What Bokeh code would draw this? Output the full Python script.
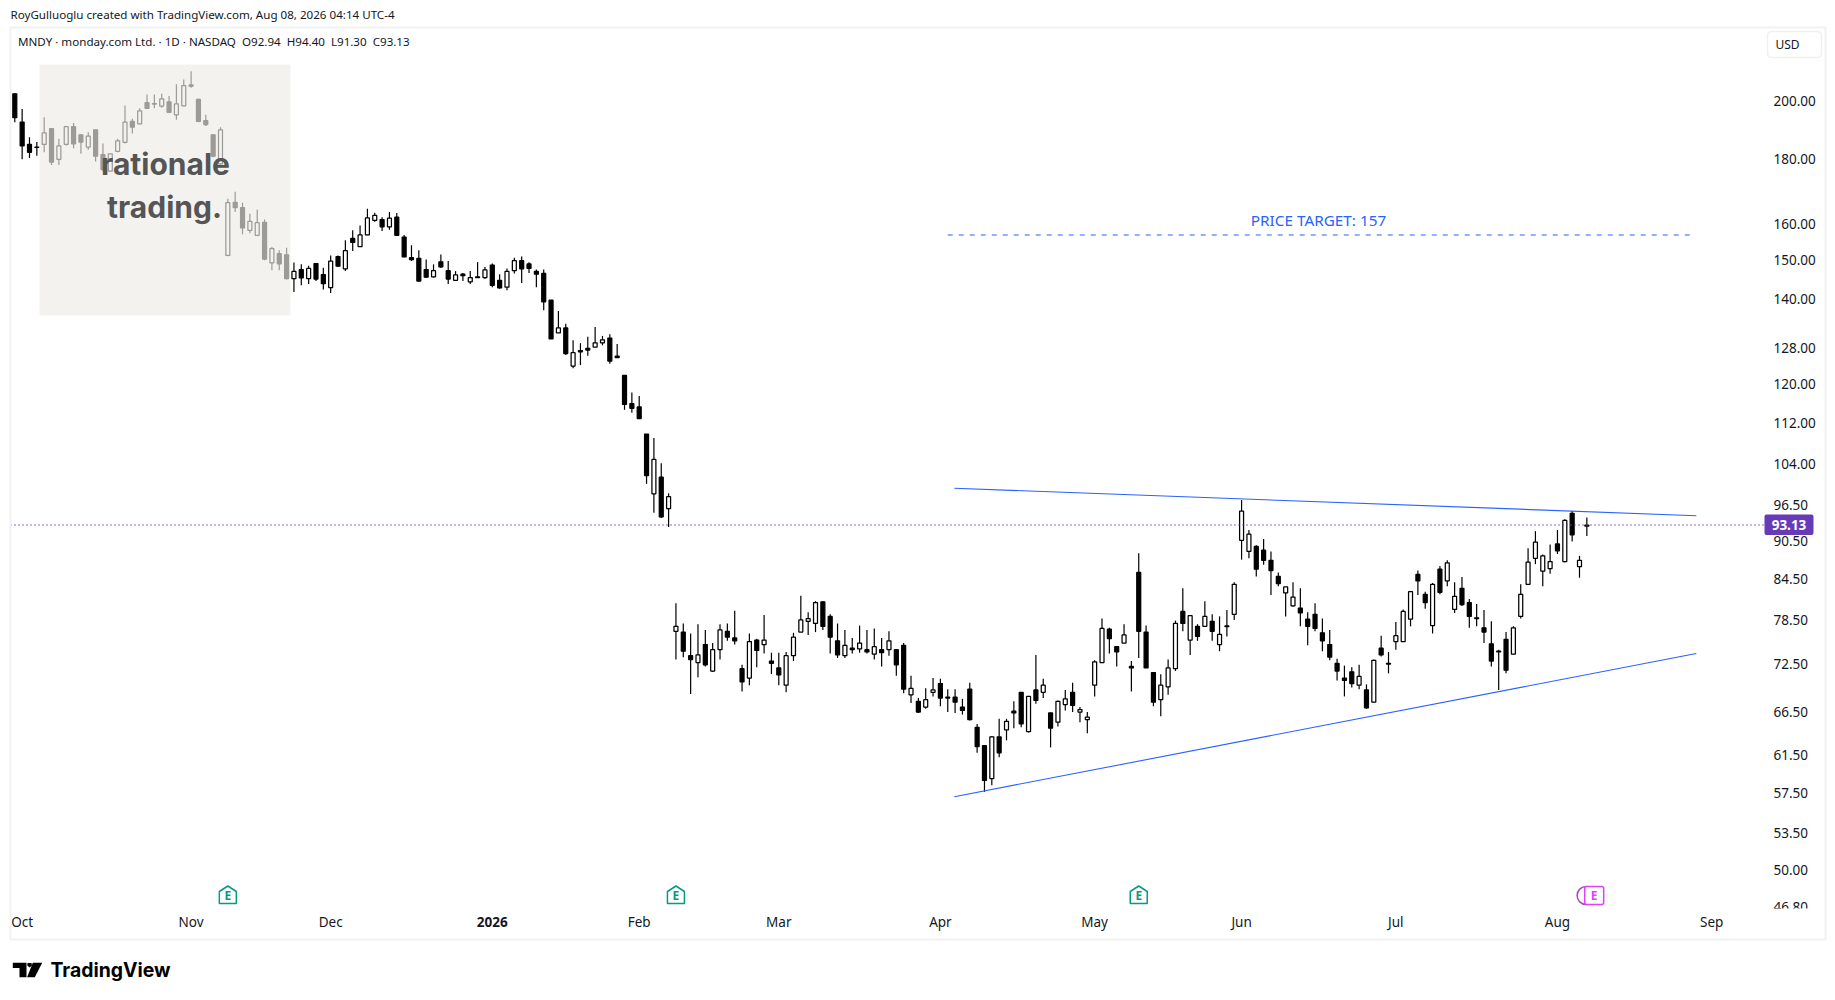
from bokeh.plotting import figure
from bokeh.embed import file_html
from bokeh.resources import INLINE
from bokeh.models import (Range1d, FixedTicker, PrintfTickFormatter, Label, BoxAnnotation,
                          PolyAnnotation, ColumnDataSource)

highs = [
 202.4,197.0,187.2,185.6,194.1,190.1,186.7,191.0,192.1,188.3,
 188.9,189.7,185.1,181.7,186.7,198.2,193.5,197.2,202.2,202.2,
 202.4,201.6,205.9,207.7,210.8,200.6,194.9,188.1,190.6,167.6,
 169.7,166.4,163.1,164.3,161.4,153.6,152.7,153.4,149.4,148.9,
 148.5,149.1,148,151.3,151.3,155.5,158.3,159.7,164.6,163.4,
 162.1,163.6,163.3,157,154.1,152.7,150.2,148.9,151.6,149.8,
 147.1,146.6,147.1,149.5,148.2,149.1,146.3,147.8,150.7,151,
 149.5,147.5,147.5,139.6,136.9,133.8,129.9,129.2,130.7,133,
 130.9,131.3,129,121.9,118.2,117.5,109.7,108.9,104.1,98.6,
 80.9,78,76.6,77.9,77.1,75.3,77.9,78,79.8,72.4,
 76.6,75.9,79.2,74,74,74.1,76.7,82,79.6,81.2,
 81.2,79.3,78,77.1,76,77.7,77.1,77.3,76,76.9,
 74.5,75.3,71,68.2,69.4,70.7,70.6,69.3,69.3,68.1,
 70.1,65.1,62.6,63.7,65.7,65.7,67.8,68.9,68.4,73.7,
 70.6,66.4,67.9,69.2,70.1,67.1,66.5,73,78.7,77.4,
 74.8,77.9,72.9,88.5,77.7,71.4,71.2,73.1,78.4,83.1,
 79.1,77.9,81.2,79.3,79,79.9,84,97.4,92.3,89.8,
 90.8,88.8,85.5,83.3,84,83.1,79.6,80.9,78.7,77.1,
 73.2,72.3,72.1,72.4,69.9,73.1,76.3,74.1,78.2,80,
 82.7,85.8,82.6,83.9,86.5,87.4,84,84.8,81.5,80.8,
 79.9,78.3,74.4,76.8,77.6,83.7,89.3,92.1,88.3,89.9,
 92.3,94.1,95.5,88.1,94.4]
lows = [
 192.3,179.9,180.3,181.1,182.2,178.1,178.1,184.4,183.5,181.7,
 183,179.2,176.1,176.1,182.2,185.1,188.5,191.6,197,197.2,
 197.4,195.7,193.2,197.9,204.6,192.3,191,180.6,177.9,151.1,
 163.6,157.2,157.5,156.7,150,147.3,147.3,144.9,141.7,143.4,
 143.7,144.5,142.3,141.4,148.2,147.1,152.5,153.6,156.9,160.8,
 158.1,158.5,156.9,150.8,149.8,144.4,145.3,145.4,147.9,143.7,
 144.6,144.5,143.7,145.4,145.1,142.9,142.5,142.1,146.5,144,
 146.6,142.9,137.1,130.2,131.6,126.5,123.5,124.2,126.3,128.3,
 128.7,124.5,125.9,114.6,114,112.8,100.3,95.2,94.3,92.8,
 73.1,73.4,68.7,70.8,72.2,71.5,73.1,75.6,75.1,69,
 69.8,72.1,73.9,71.2,69.8,68.9,72.9,76.8,76.4,76.8,
 77.1,73.9,73.3,73.3,73.9,74,73.9,73.1,72.2,73.6,
 71,68.8,67.6,66.4,66.9,68.4,67.2,66.5,66.4,66.2,
 65.5,61.8,57.6,58.3,61.3,63.2,64.6,64.7,64.1,67.5,
 68.2,62.4,64.8,66.7,66.5,65.3,64,68.4,72.7,73.9,
 72.2,75.3,69,73.3,72,67.2,66,68.6,71.6,76.9,
 73.7,75.6,77.6,75.6,74.2,76.2,78.5,87.5,87.7,84.9,
 86.7,82.1,83.4,79,80.4,77.6,75,76.9,74.2,73,
 70.4,68.4,69.5,69.3,66.9,67.7,73.5,71.3,74.4,75.5,
 77.6,82.1,80.1,76.6,82.2,83.4,79.5,80.5,77.4,77.6,
 75.3,72.2,69.2,71.3,73.8,78.7,83.6,86.8,83.4,85.3,
 88.4,87.1,90.4,84.7,91.3]
opens = [
 202.4,192.4,184.8,183.9,184.8,190.1,179.9,184.8,190.8,188,
 183.9,189.7,181.4,176.1,182.5,185.5,192.6,191.8,199.2,198.9,
 198,199.5,194.9,198.1,205.7,200.4,192.9,188,178.4,151.3,
 166.5,164.9,158.3,156.9,160.6,149.3,151.8,151.5,145.1,147.5,
 145.1,149.1,146.2,142.8,151,147.7,156,153.7,157,161.2,
 161.4,159.3,162.1,156.4,150.7,150.5,147.5,145.6,149.6,147.2,
 144.7,146.3,144.3,145.6,145.4,148.7,144.7,142.9,147.2,149.9,
 149,147,146.5,139.6,131.6,132.8,124,127.5,128,128.3,
 129.3,130.4,126.2,121.9,115.9,115.2,109.7,98.5,101.5,95.9,
 76.9,76.8,73.6,72.7,75.1,71.6,74.4,76.9,76,71.9,
 70.7,75.7,75.1,72.9,72,69.8,73.6,76.8,78.3,78,
 81.1,79,75.6,73.6,74.6,74.5,74.4,73.8,74.4,74.4,
 74.4,75,68.6,67.8,67.1,68.9,70,68.3,68.3,67.1,
 69.3,64.7,62.6,59,63.6,64.4,66.6,68.9,64.2,69.2,
 68.9,66.4,65.3,67.4,68.9,66.5,65.6,69.8,72.7,77.2,
 74.8,75.3,72.2,85.5,76.8,71.4,68,69.6,71.9,79.7,
 75.7,77.6,77.6,78.3,75.1,77.65,79.3,90.6,88.8,89.6,
 89,87.4,84.9,82.4,80.5,80.2,78.6,79.3,76.7,75.1,
 72.6,70.7,71.5,69.8,69.2,67.7,74.6,72.6,75.5,75.5,
 78.6,85.2,82.2,77.7,86,84.2,80,83.1,81,78.8,
 77.4,75.2,74.2,75.8,73.8,79,83.7,87.7,85.7,86.1,
 90,87.2,95.1,86.4,92.94]
closes = [
 193.9,184.3,182.2,183.8,188.7,179,184.3,190.8,185,185.6,
 187.6,180.9,176.6,181.7,186,192.4,190.6,196.3,197.2,198.7,
 200.6,195.8,198.8,205.4,205.2,192.6,191.5,180.9,189.7,166.4,
 164.9,159,160.9,160.5,150.3,153.2,149,145.1,147,145.3,
 147.8,145,143.8,149.8,148.4,152.6,154.9,157,161.9,162.6,
 159.3,161.8,156.9,150.9,150.2,144.5,145.5,147.2,148.2,145,
 146.1,145.9,145.4,145.4,147.4,143.4,142.7,147,149.9,147.7,
 147.8,146.3,139.2,130.2,132.8,126.8,127,127.2,127.6,129.3,
 130,125.1,125.9,115.7,114.9,112.8,101.8,104.8,94.5,98,
 77.6,74.2,73.1,73.7,72.4,74.4,77.1,76.1,75.6,70.2,
 75.5,74.3,75.7,72.6,71.1,73.6,76.1,78.5,78.7,81,
 77.6,76.1,73.7,75,74.4,75.3,74.1,74.8,74,75.6,
 72.4,69.3,69.4,66.5,68,69.2,68.2,68.2,67.7,66.7,
 65.6,62.5,58.8,63.6,61.8,65.4,66.4,65.1,68.4,67.9,
 69.8,64.6,67.8,68.1,67.3,66.8,65.9,72.8,77.3,75.9,
 74.1,76.4,72,76.9,72,67.7,69.8,72,78,78,
 79.1,76.2,79,76.9,76.5,77.55,83.7,95.5,91.6,86,
 87.4,85.8,83.8,83.3,81.8,79.5,77.6,77.3,75.6,73.4,
 71.6,70.4,70,70.9,67,73,73.7,72.5,76.3,79.7,
 82.6,84.2,81,83.7,82.5,87,81.9,80.7,79,78.7,
 76.8,72.9,74.1,71.7,77.4,82.2,87.1,90.3,88.1,87.2,
 88.9,93.9,91.5,87.4,93.13]

price_ticks = [200, 180, 160, 150, 140, 128, 120, 112, 104, 96.5, 90.5, 84.5, 78.5, 72.5, 66.5, 61.5, 57.5, 53.5, 50, 46.8]
month_ticks = {1: "Oct", 24: "Nov", 43: "Dec", 85: "Feb", 104: "Mar", 126: "Apr", 147: "May", 167: "Jun", 188: "Jul", 210: "Aug", 231: "Sep"}
year_tick = {65: "2026"}
upper_trend_x, upper_trend_y = [127.9, 228.9], [99.5, 94.7]
lower_trend_x, lower_trend_y = [127.9, 228.9], [57.1, 73.9]
target_x, target_y = [127, 228], [157, 157]
target_label = "PRICE TARGET: 157"
last_close = 93.13
earnings_bars = [29, 90, 153]
next_earnings_bar = 215

FONT = "Noto Sans"
INK = "#131722"
BAR_STEP = 7.346
X0 = 14.3
PANE_LEFT, PANE_RIGHT, PANE_BOTTOM = 10, 1764, 908
W, H = 1835, 1000


def price_at(Y):
    import math
    return 200 * math.exp(-(Y - 100) / 555.4)


def bar_at(X):
    return (X - X0) / BAR_STEP


# The frame fills the canvas, the axes sit at fixed places inside it
p = figure(width=W, height=H, output_backend="svg", toolbar_location=None,
           y_axis_type="log", y_axis_location="right",
           x_range=Range1d(bar_at(0), bar_at(W)),
           y_range=Range1d(price_at(H), price_at(0)),
           min_border_left=0, min_border_right=0, min_border_top=0, min_border_bottom=0)
p.grid.visible = False
p.outline_line_color = None
p.background_fill_color = "white"
p.border_fill_color = "white"

# axes
p.yaxis.fixed_location = bar_at(PANE_RIGHT)
p.yaxis.ticker = FixedTicker(ticks=price_ticks)
p.yaxis.formatter = PrintfTickFormatter(format="%.2f")
p.yaxis.axis_line_color = None
p.yaxis.major_tick_line_color = None
p.yaxis.minor_tick_line_color = None
p.yaxis.major_tick_out = 0
p.yaxis.major_tick_in = 0
p.yaxis.minor_tick_out = 0
p.yaxis.minor_tick_in = 0
p.yaxis.major_label_text_font = FONT
p.yaxis.major_label_text_font_size = "13.5px"
p.yaxis.major_label_text_color = INK
p.yaxis.major_label_standoff = 9

p.xaxis.fixed_location = price_at(PANE_BOTTOM)
p.xaxis.ticker = FixedTicker(ticks=list(month_ticks))
p.xaxis.major_label_overrides = month_ticks
p.xaxis.axis_line_color = None
p.xaxis.major_tick_line_color = None
p.xaxis.minor_tick_line_color = None
p.xaxis.major_tick_out = 0
p.xaxis.major_tick_in = 0
p.xaxis.minor_tick_out = 0
p.xaxis.minor_tick_in = 0
p.xaxis.major_label_text_font = FONT
p.xaxis.major_label_text_font_size = "13.5px"
p.xaxis.major_label_text_color = INK
p.xaxis.major_label_standoff = 4

# candles
idx = list(range(len(opens)))
src = ColumnDataSource(dict(
    x=idx, o=opens, h=highs, l=lows, c=closes,
    top=[max(a, b) for a, b in zip(opens, closes)],
    bot=[min(a, b) for a, b in zip(opens, closes)],
    fill=["#000000" if c < o else "#ffffff" for o, c in zip(opens, closes)],
))
p.segment("x", "h", "x", "l", source=src, line_color="#000000", line_width=1.2)
p.vbar(x="x", top="top", bottom="bot", width=0.54, source=src, fill_color="fill",
       line_color="#000000", line_width=1.25)

# drawings
p.line(upper_trend_x, upper_trend_y, line_color="#2962ff", line_width=1.1)
p.line(lower_trend_x, lower_trend_y, line_color="#2962ff", line_width=1.1)
p.line(target_x, target_y, line_color="#2962ff", line_width=1.1, line_dash="5 6")
p.line([bar_at(PANE_LEFT), bar_at(PANE_RIGHT)], [last_close, last_close], line_color="#673ab7",
       line_width=1.4, line_dash="1 3")


def label(text, X, Y, size, color=INK, align="left", font=FONT, style="normal", level="annotation"):
    p.add_layout(Label(x=X, y=Y, x_units="canvas", y_units="canvas", text=text,
                       text_font=font, text_font_size=f"{size}px", text_color=color,
                       text_align=align, text_baseline="middle", text_font_style=style,
                       level=level))


def box(l, r, t, b, fill=None, alpha=1.0, line=None, lw=1, radius=0, level="annotation"):
    p.add_layout(BoxAnnotation(left=l, right=r, top=t, bottom=b,
                               left_units="canvas", right_units="canvas",
                               top_units="canvas", bottom_units="canvas",
                               fill_color=fill, fill_alpha=alpha if fill else 0,
                               line_color=line, line_width=lw, line_alpha=1 if line else 0,
                               border_radius=radius, level=level,
                               editable=False))


def poly(pts, fill=None, line=None, lw=1.5):
    p.add_layout(PolyAnnotation(xs=[a for a, _ in pts], ys=[b for _, b in pts],
                                xs_units="canvas", ys_units="canvas",
                                fill_color=fill, fill_alpha=1 if fill else 0,
                                line_color=line, line_width=lw, line_alpha=1 if line else 0))


# watermark over the candles
box(39, 290, 64, 315, fill="#eeece6", alpha=0.66)
label("rationale", 165, 163, 30, color="#555555", align="center", font="Inter", style="bold")
label("trading.", 164, 206, 30, color="#555555", align="center", font="Inter", style="bold")

# chrome
box(10, 1825, 27, 939, line="#f1f1f1", lw=2)
box(1767, 1821, 31, 57, line="#f0f0f0", lw=1.5, radius=4)
label("USD", 1775, 44, 12)
label("RoyGulluoglu created with TradingView.com, Aug 08, 2026 04:14 UTC-4", 10, 14, 11.6)
label("MNDY \u00b7 monday.com Ltd. \u00b7 1D \u00b7 NASDAQ\u00a0\u00a0O92.94\u00a0\u00a0H94.40\u00a0\u00a0L91.30\u00a0\u00a0C93.13", 17.5, 41, 11.6)
label(target_label, 1318, 219, 15.3, color="#2962ff", align="center")
label(year_tick[65], X0 + 65 * BAR_STEP, 921.5, 13.5, align="center", style="bold")

# clip the lowest price label where the pane ends
box(1766, 1823, 908, 918, fill="#ffffff", level="overlay")

# last price tag
box(1764, 1813, 514, 534.5, fill="#673ab7", radius=2, level="overlay")
label(f"{last_close:.2f}", 1788.5, 524.5, 13.5, color="#ffffff", align="center", style="bold", level="overlay")

# earnings flags
for b in earnings_bars:
    c = X0 + b * BAR_STEP
    poly([(c - 8.5, 891), (c, 885.5), (c + 8.5, 891), (c + 8.5, 903), (c - 8.5, 903)], line="#089981")
    label("E", c, 894.5, 12, color="#089981", align="center", style="bold")
c = X0 + next_earnings_bar * BAR_STEP
p.scatter([next_earnings_bar - 1.1], [price_at(895)], size=18, marker="circle",
          fill_alpha=0, line_color="#ab47bc", line_width=1.5)
box(c - 9.5, c + 9.5, 886, 904, fill="#ffffff", line="#e040fb", lw=1.5, radius=2)
label("E", c, 894.5, 12, color="#e040fb", align="center", style="bold")

# TradingView logo
poly([(12.3, 962.3), (26, 962.3), (26, 976.7), (19, 976.7), (19, 967.5), (12.3, 967.5)], fill="#000000")
poly([(32.3, 962.3), (41.7, 962.3), (34.3, 976.7), (26.6, 976.7)], fill="#000000")
poly([(27, 962.5), (31, 962.5), (31.5, 965), (29, 967), (26.8, 965)], fill="#000000")
label("TradingView", 50, 969, 19.4, color="#000000", font="Inter", style="bold")

open("out.html", "w").write(file_html(p, INLINE))
